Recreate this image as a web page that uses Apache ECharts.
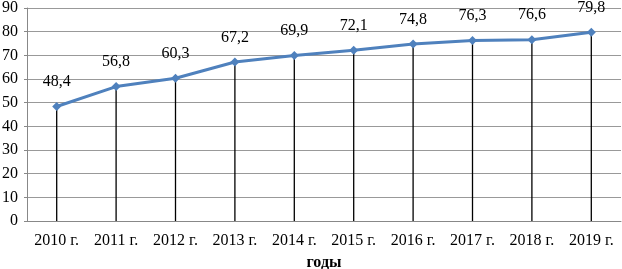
<!DOCTYPE html>
<html>
<head>
<meta charset="utf-8">
<script src="https://cdn.jsdelivr.net/npm/echarts@6/dist/echarts.min.js"></script>
<style>html,body{margin:0;padding:0;background:#fff;}#c{width:622px;height:269px;}</style>
</head>
<body>
<div id="c"></div>
<script>
const categories = ['2010 г.', '2011 г.', '2012 г.', '2013 г.', '2014 г.', '2015 г.', '2016 г.', '2017 г.', '2018 г.', '2019 г.'];
const values = [48.4, 56.8, 60.3, 67.2, 69.9, 72.1, 74.8, 76.3, 76.6, 79.8];
const xAxisName = 'годы';

const chart = echarts.init(document.getElementById('c'), null, {renderer: 'canvas'});
const font = 'Liberation Serif, Times New Roman, serif';
chart.setOption({
  animation: false,
  backgroundColor: '#fff',
  grid: {left: 27, right: 1, top: 8, bottom: 48, containLabel: false, outerBoundsMode: 'none'},
  xAxis: {
    type: 'category',
    data: categories,
    boundaryGap: true,
    name: xAxisName,
    nameLocation: 'middle',
    nameGap: 34,
    nameTextStyle: {fontFamily: font, fontSize: 16, fontWeight: 'bold', color: '#000'},
    axisLine: {show: true, lineStyle: {color: '#888', width: 1}},
    axisTick: {show: false},
    axisLabel: {fontFamily: font, fontSize: 16, color: '#000', margin: 12, interval: 0}
  },
  yAxis: {
    type: 'value',
    min: 0, max: 90, interval: 10,
    axisLine: {show: true, lineStyle: {color: '#888', width: 1}},
    axisTick: {show: true, length: 3, lineStyle: {color: '#888'}},
    splitLine: {show: true, lineStyle: {color: '#999', width: 1}},
    axisLabel: {fontFamily: font, fontSize: 16, color: '#000', margin: 9}
  },
  series: [
    {
      type: 'bar',
      data: values,
      barWidth: 1.3,
      itemStyle: {color: '#000'},
      silent: true,
      z: 1
    },
    {
      type: 'line',
      data: values,
      symbol: 'diamond',
      symbolSize: 9,
      lineStyle: {color: '#4F81BD', width: 3},
      itemStyle: {color: '#4F81BD'},
      z: 3,
      label: {
        show: true,
        position: 'top',
        distance: 12,
        fontFamily: font,
        fontSize: 16,
        color: '#000',
        formatter: p => String(p.value).replace('.', ',')
      }
    }
  ]
});
</script>
</body>
</html>
